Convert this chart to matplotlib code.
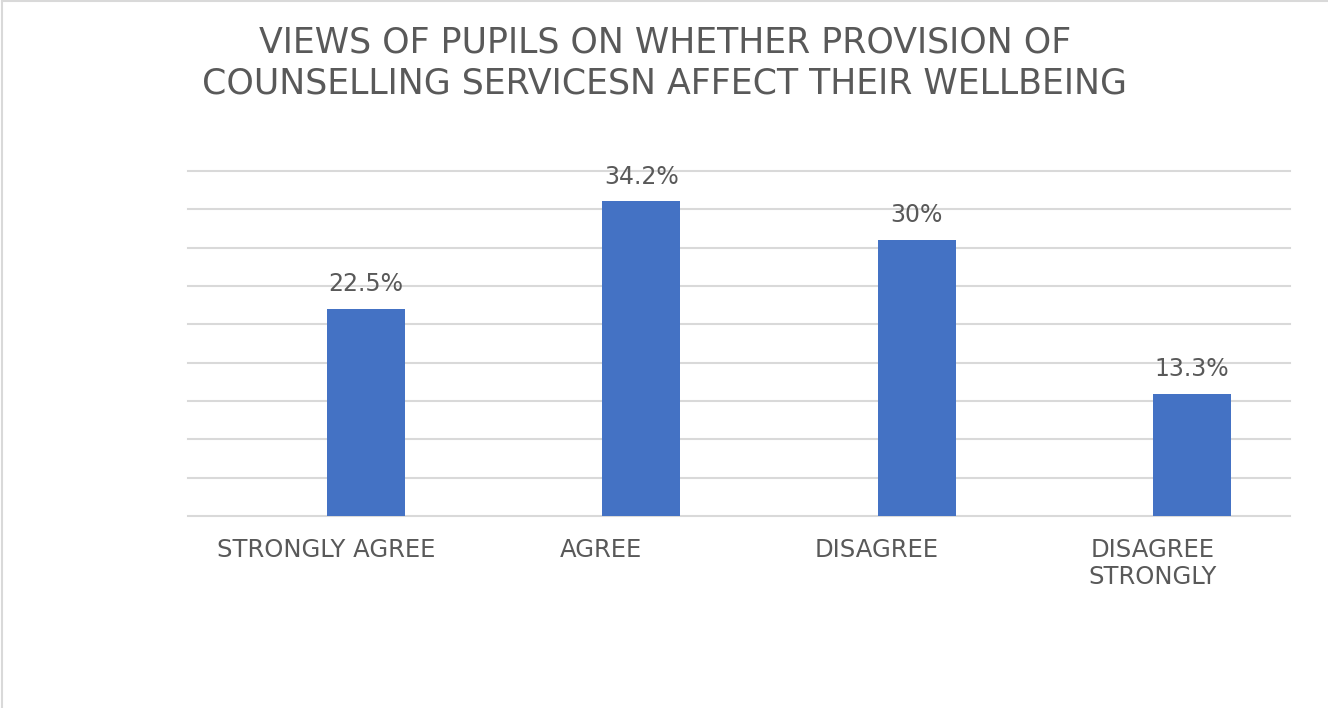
import matplotlib
matplotlib.use("Agg")
import matplotlib.pyplot as plt
from matplotlib.lines import Line2D

categories = ["STRONGLY AGREE", "AGREE", "DISAGREE", "DISAGREE\nSTRONGLY"]
values = [22.5, 34.2, 30, 13.3]
value_labels = ["22.5%", "34.2%", "30%", "13.3%"]
title = "VIEWS OF PUPILS ON WHETHER PROVISION OF\nCOUNSELLING SERVICESN AFFECT THEIR WELLBEING"

plt.rcParams['font.family'] = ['DejaVu Sans']
text_color = "#595959"
bar_color = "#4472C4"
grid_color = "#D9D9D9"

W, H = 1328, 708
fig = plt.figure(figsize=(W / 100, H / 100), dpi=100)
fig.patch.set_facecolor("white")

ax = fig.add_axes([188 / W, 1 - 516 / H, (1290 - 188) / W, (516 - 171) / H])
ymax = 37.5
ax.set_ylim(0, ymax)
ax.set_xlim(-0.5, len(categories) - 0.5)
ax.set_yticks([ymax * i / 9 for i in range(10)])
ax.yaxis.grid(True, color=grid_color, linewidth=1.5)
for gl in ax.get_ygridlines():
    gl.set_clip_on(False)
ax.set_axisbelow(True)
for s in ax.spines.values():
    s.set_visible(False)
ax.tick_params(axis='y', left=False, labelleft=False)
ax.tick_params(axis='x', bottom=False, pad=12)

xs = list(range(len(categories)))
offset = 0.145
bars = ax.bar([x + offset for x in xs], values, width=0.283, color=bar_color, zorder=2)
ax.set_xticks(xs)
ax.set_xticklabels(categories, fontsize=17.5, color=text_color, linespacing=1.2)

for b, lab in zip(bars, value_labels):
    ax.annotate(lab, (b.get_x() + b.get_width() / 2, b.get_height()),
                xytext=(0, 9), textcoords="offset points",
                ha="center", va="bottom", fontsize=17, color=text_color)

fig.text(665 / W, 1 - 63 / H, title, ha="center", va="center",
         fontsize=25, color=text_color, linespacing=1.25)

# light frame around the chart area
fig.add_artist(Line2D([2 / W, 2 / W], [0, 1 - 1 / H], transform=fig.transFigure,
                      color="#D9D9D9", linewidth=1.5))
fig.add_artist(Line2D([2 / W, 1], [1 - 1 / H, 1 - 1 / H], transform=fig.transFigure,
                      color="#D9D9D9", linewidth=1.5))

fig.savefig("out.png", dpi=100, facecolor="white")
